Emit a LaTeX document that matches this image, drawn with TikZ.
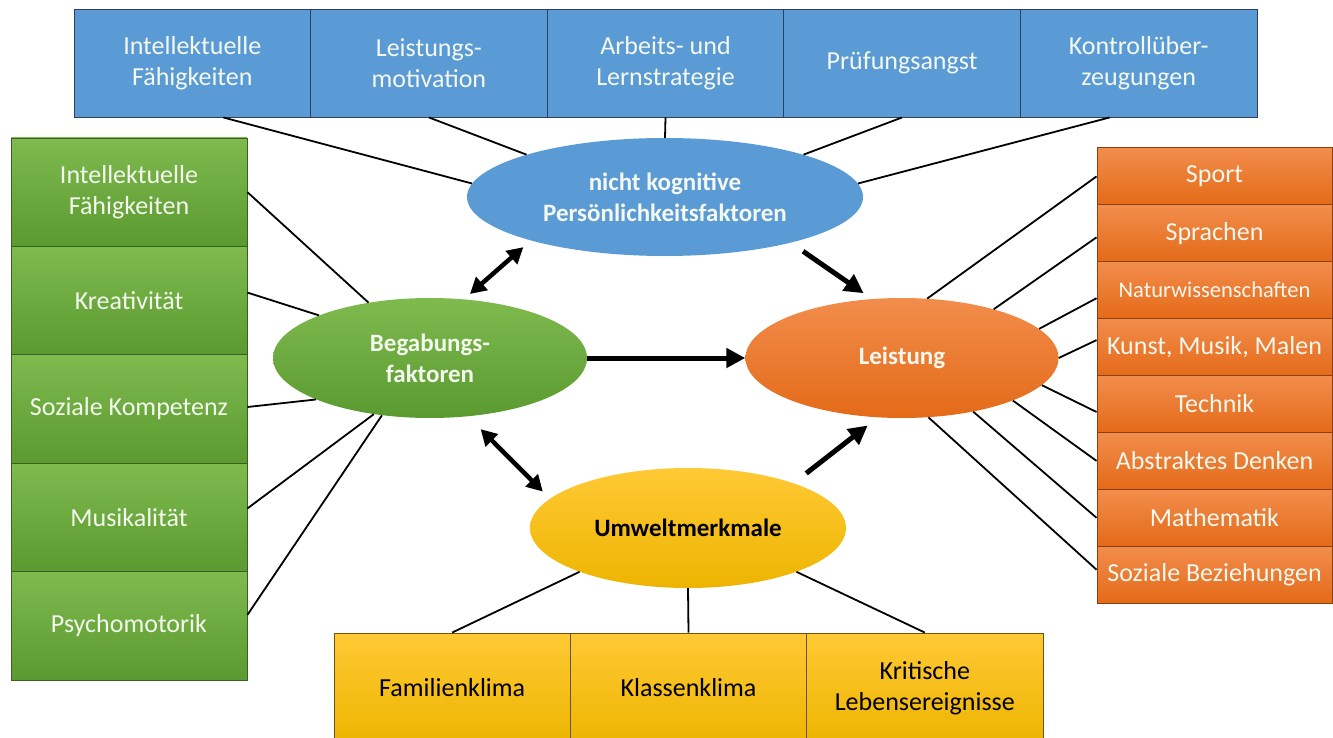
\documentclass[tikz,border=0pt]{standalone}
\usepackage{fontspec}
\setmainfont{Carlito}
\usetikzlibrary{calc,arrows.meta,shapes.geometric}
\definecolor{bluefill}{HTML}{5B9BD5}
\definecolor{bluedark}{HTML}{2E3E5C}
\definecolor{greentop}{HTML}{7FBA4E}
\definecolor{greenbot}{HTML}{5A9A30}
\definecolor{greendark}{HTML}{3A5F22}
\definecolor{orangetop}{HTML}{F28D4C}
\definecolor{orangebot}{HTML}{E46A18}
\definecolor{orangedark}{HTML}{8A3F0C}
\definecolor{yellowtop}{HTML}{FFC935}
\definecolor{yellowbot}{HTML}{EDB500}
\definecolor{yellowdark}{HTML}{6B5310}
\definecolor{offwhite}{HTML}{F4F8EE}
\begin{document}
\begin{tikzpicture}[x=1pt,y=-1pt,
  boxtext/.style={inner sep=0pt, align=center, font=\fontsize{26}{31}\selectfont, line width=0.9pt},
  bluebox/.style={boxtext, draw=bluedark, fill=bluefill, text=offwhite, minimum width=236.6pt, minimum height=108pt},
  greenbox/.style={boxtext, draw=greendark, top color=greentop, bottom color=greenbot, text=offwhite, minimum width=236pt, minimum height=108.4pt},
  orangebox/.style={boxtext, draw=orangedark, top color=orangetop, bottom color=orangebot, text=offwhite, minimum width=235pt, minimum height=56.9pt},
  yellowbox/.style={boxtext, draw=yellowdark, top color=yellowtop, bottom color=yellowbot, text=black, minimum width=236.3pt, minimum height=110pt},
  ell/.style={ellipse, inner sep=0pt, align=center, font=\fontsize{25}{31}\selectfont\bfseries},
  conn/.style={draw=black, line width=1.8pt},
  arr/.style={line width=5pt, -{Triangle[length=19pt,width=19pt]}},
  dbl/.style={line width=4.5pt, {Triangle[length=16pt,width=17pt]}-{Triangle[length=16pt,width=17pt]}}
]
\clip (0,0) rectangle (1333,738);
\fill[white] (0,0) rectangle (1333,738);

% top blue boxes
\node[bluebox] (b1) at (192.3,63) {Intellektuelle\\Fähigkeiten};
\node[bluebox] (b2) at (428.9,63) {Leistungs-\\motivation};
\node[bluebox] (b3) at (665.5,63) {Arbeits- und\\Lernstrategie};
\node[bluebox] (b4) at (902.1,63) {Prüfungsangst};
\node[bluebox] (b5) at (1138.7,63) {Kontrollüber-\\zeugungen};

% left green boxes
\node[greenbox] (g1) at (129,192.2) {Intellektuelle\\Fähigkeiten};
\node[greenbox] (g2) at (129,300.6) {Kreativität};
\node[greenbox] (g3) at (129,409) {Soziale Kompetenz};
\node[greenbox] (g4) at (129,517.4) {Musikalität};
\node[greenbox] (g5) at (129,625.8) {Psychomotorik};

% right orange boxes
\node[orangebox] (o1) at (1214.5,176.4) {Sport};
\node[orangebox] (o2) at (1214.5,233.3) {Sprachen};
\node[orangebox, font=\fontsize{22.5}{26}\selectfont] (o3) at (1214.5,290.2) {Naturwissenschaften};
\node[orangebox] (o4) at (1214.5,347.1) {Kunst, Musik, Malen};
\node[orangebox] (o5) at (1214.5,404) {Technik};
\node[orangebox] (o6) at (1214.5,460.9) {Abstraktes Denken};
\node[orangebox] (o7) at (1214.5,517.8) {Mathematik};
\node[orangebox] (o8) at (1214.5,574.7) {Soziale Beziehungen};

% bottom yellow boxes
\node[yellowbox] (y1) at (452.2,688) {Familienklima};
\node[yellowbox] (y2) at (688.5,688) {Klassenklima};
\node[yellowbox] (y3) at (924.8,688) {Kritische\\Lebensereignisse};

% ellipses
\node[ell, fill=bluefill, text=offwhite, minimum width=396pt, minimum height=118pt] (be) at (665,197) {nicht kognitive\\Persönlichkeitsfaktoren};
\node[ell, top color=greentop, bottom color=greenbot, text=offwhite, minimum width=314pt, minimum height=120pt] (ge) at (430,358) {Begabungs-\\faktoren};
\node[ell, top color=orangetop, bottom color=orangebot, text=offwhite, minimum width=313pt, minimum height=120pt] (oe) at (902,358) {Leistung};
\node[ell, top color=yellowtop, bottom color=yellowbot, text=black, minimum width=316pt, minimum height=120pt] (ye) at (688,528) {Umweltmerkmale};

% connectors to blue ellipse
\draw[conn] ($(b1.south)+(31,0)$) -- (be.176);
\draw[conn] (b2.south) -- (be.163);
\draw[conn] (b3.south) -- (be.north);
\draw[conn] (b4.south) -- (be.17);
\draw[conn] ($(b5.south)+(-29,0)$) -- (be.4);

% connectors to green ellipse
\draw[conn] (g1.east) -- (ge.138);
\draw[conn] ($(g2.east)+(0,-8)$) -- (ge.159);
\draw[conn] ($(g3.east)+(0,-2)$) -- (ge.200);
\draw[conn] ($(g4.east)+(0,-9)$) -- (ge.225);
\draw[conn] ($(g5.east)+(0,-11)$) -- (ge.230);

% connectors to orange ellipse
\draw[conn] (o1.west) -- (oe.67);
\draw[conn] ($(o2.west)+(0,4)$) -- (oe.28);
\draw[conn] ($(o3.west)+(0,8)$) -- (oe.12);
\draw[conn] ($(o4.west)+(0,-7)$) -- (oe.east);
\draw[conn] ($(o5.west)+(0,8)$) -- (oe.349);
\draw[conn] (o6.west) -- (oe.339);
\draw[conn] (o7.west) -- (oe.323);
\draw[conn] ($(o8.west)+(0,-5)$) -- (oe.294);

% connectors to yellow ellipse
\draw[conn] (y1.north) -- (ye.202);
\draw[conn] (y2.north) -- (ye.south);
\draw[conn] (y3.north) -- (ye.338);

% arrows between ellipses
\draw[dbl, shorten <=10pt, shorten >=8pt] (be.198) -- (ge.60);
\draw[arr, shorten <=15pt, shorten >=10pt] (be.340) -- (oe.117);
\draw[arr] (ge.east) -- (oe.west);
\draw[dbl, shorten <=18pt, shorten >=10pt] (ge.303) -- (ye.168);
\draw[arr, shorten <=16pt, shorten >=13pt] (ye.23) -- (oe.248);
\end{tikzpicture}
\end{document}
